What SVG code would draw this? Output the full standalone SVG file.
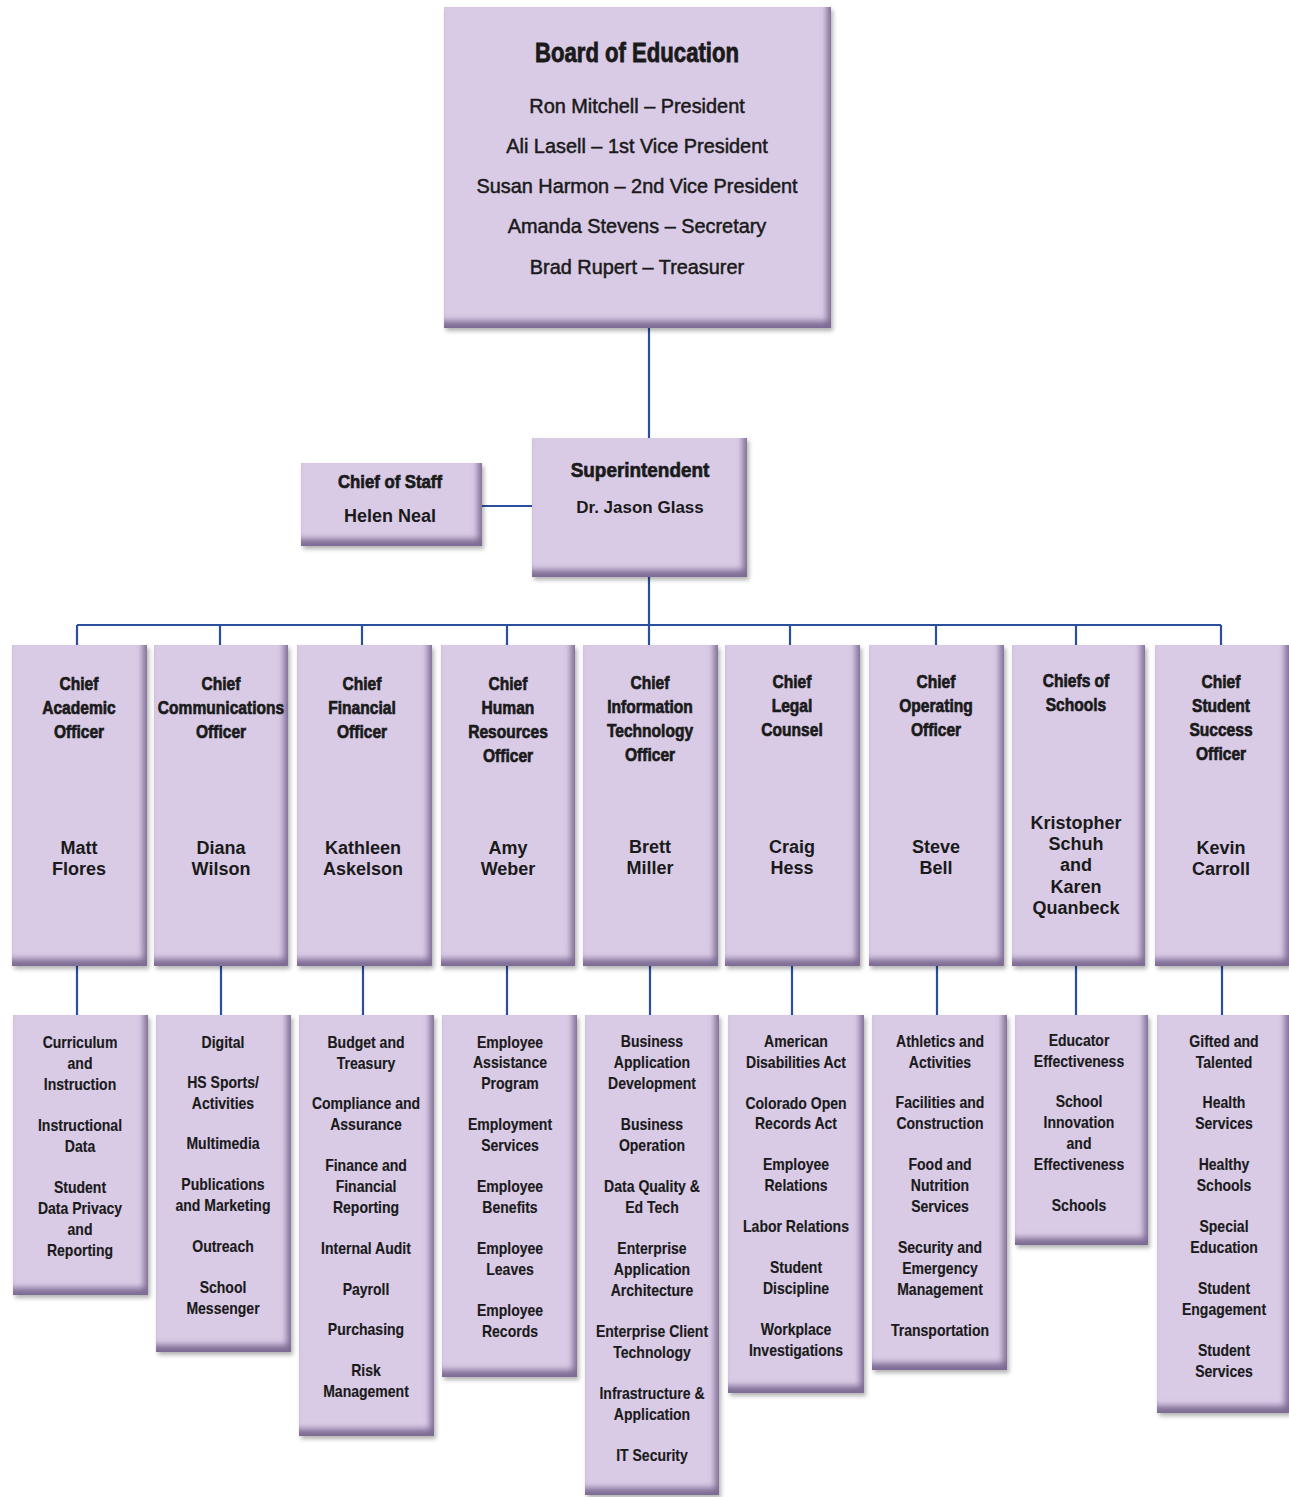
<svg xmlns="http://www.w3.org/2000/svg" width="1289" height="1497" viewBox="0 0 1289 1497">
<style>
.bx{fill:#d9cbe6;filter:url(#bev)}
.ln{stroke:#2b4f9e;stroke-width:2.2;fill:none}
text{font-family:"Liberation Sans",Arial,sans-serif;fill:#1a1a1a;text-anchor:middle}
.ttl{font-size:27px;font-weight:bold;stroke:#1a1a1a;stroke-width:0.8}
.brd{font-size:20.5px;stroke:#1a1a1a;stroke-width:0.5}
.hd{font-size:19px;font-weight:bold;stroke:#1a1a1a;stroke-width:0.7}
.nm{font-size:18px;font-weight:bold}
.sb{font-size:16.5px;font-weight:bold;stroke:#1a1a1a;stroke-width:0.15}
</style>
<defs>
<filter id="bev" x="-10%" y="-10%" width="125%" height="125%" color-interpolation-filters="sRGB">
<feGaussianBlur in="SourceAlpha" stdDeviation="3" result="blur"/>
<feOffset in="blur" dx="-4" dy="-7" result="off"/>
<feComposite in="SourceAlpha" in2="off" operator="out" result="inner"/>
<feFlood flood-color="#5e4a78" flood-opacity="0.75"/>
<feComposite in2="inner" operator="in" result="shade"/>
<feOffset in="SourceAlpha" dx="2" dy="3" result="so"/>
<feGaussianBlur in="so" stdDeviation="2" result="sblur"/>
<feFlood flood-color="#000" flood-opacity="0.3"/>
<feComposite in2="sblur" operator="in" result="drop"/>
<feMerge><feMergeNode in="drop"/><feMergeNode in="SourceGraphic"/><feMergeNode in="shade"/></feMerge>
</filter>
</defs>
<rect width="1289" height="1497" fill="#ffffff"/>
<g id="connectors">
<path class="ln" d="M649 328V438M482 506H532M649 577V625M77 625H1221M77 625V645M220 625V645M362 625V645M507 625V645M649 625V645M790 625V645M936 625V645M1076 625V645M1221 625V645"/>
<path class="ln" d="M77 966V1015M221 966V1015M363 966V1015M507 966V1015M650 966V1015M792 966V1015M937 966V1015M1076 966V1015M1222 966V1015"/>
</g>
<g id="board">
<rect class="bx" x="444" y="7" width="387" height="321"/>
<g transform="translate(637 0) scale(0.82 1)"><text class="ttl" x="0" y="62">Board of Education</text></g>
<g transform="translate(637 0) scale(0.97 1)">
<text class="brd" x="0" y="113">Ron Mitchell – President</text>
<text class="brd" x="0" y="153">Ali Lasell – 1st Vice President</text>
<text class="brd" x="0" y="193">Susan Harmon – 2nd Vice President</text>
<text class="brd" x="0" y="233">Amanda Stevens – Secretary</text>
<text class="brd" x="0" y="274">Brad Rupert – Treasurer</text>
</g>
</g>
<g id="chief-of-staff">
<rect class="bx" x="301" y="463" width="181" height="83"/>
<g transform="translate(390 0) scale(0.88 1)"><text class="hd" x="0" y="488">Chief of Staff</text></g>
<text class="nm" x="390" y="522">Helen Neal</text>
</g>
<g id="superintendent">
<rect class="bx" x="532" y="438" width="215" height="139"/>
<g transform="translate(640 0) scale(0.9 1)"><text class="hd" x="0" y="477" style="font-size:21px">Superintendent</text></g>
<text class="nm" x="640" y="513" style="font-size:17px">Dr. Jason Glass</text>
</g>
<g id="cao">
<rect class="bx" x="12" y="645" width="135" height="321"/>
<g transform="translate(79 0) scale(0.82 1)"><text class="hd"><tspan x="0" y="690">Chief</tspan><tspan x="0" y="714">Academic</tspan><tspan x="0" y="738">Officer</tspan></text></g>
<text class="nm"><tspan x="79" y="854">Matt</tspan><tspan x="79" y="875">Flores</tspan></text>
</g>
<g id="cco">
<rect class="bx" x="154" y="645" width="134" height="321"/>
<g transform="translate(221 0) scale(0.82 1)"><text class="hd"><tspan x="0" y="690">Chief</tspan><tspan x="0" y="714">Communications</tspan><tspan x="0" y="738">Officer</tspan></text></g>
<text class="nm"><tspan x="221" y="854">Diana</tspan><tspan x="221" y="875">Wilson</tspan></text>
</g>
<g id="cfo">
<rect class="bx" x="297" y="645" width="135" height="321"/>
<g transform="translate(362 0) scale(0.82 1)"><text class="hd"><tspan x="0" y="690">Chief</tspan><tspan x="0" y="714">Financial</tspan><tspan x="0" y="738">Officer</tspan></text></g>
<text class="nm"><tspan x="363" y="854">Kathleen</tspan><tspan x="363" y="875">Askelson</tspan></text>
</g>
<g id="chro">
<rect class="bx" x="441" y="645" width="134" height="321"/>
<g transform="translate(508 0) scale(0.82 1)"><text class="hd"><tspan x="0" y="690">Chief</tspan><tspan x="0" y="714">Human</tspan><tspan x="0" y="738">Resources</tspan><tspan x="0" y="762">Officer</tspan></text></g>
<text class="nm"><tspan x="508" y="854">Amy</tspan><tspan x="508" y="875">Weber</tspan></text>
</g>
<g id="cito">
<rect class="bx" x="583" y="645" width="135" height="321"/>
<g transform="translate(650 0) scale(0.82 1)"><text class="hd"><tspan x="0" y="689">Chief</tspan><tspan x="0" y="713">Information</tspan><tspan x="0" y="737">Technology</tspan><tspan x="0" y="761">Officer</tspan></text></g>
<text class="nm"><tspan x="650" y="853">Brett</tspan><tspan x="650" y="874">Miller</tspan></text>
</g>
<g id="clc">
<rect class="bx" x="725" y="645" width="135" height="321"/>
<g transform="translate(792 0) scale(0.82 1)"><text class="hd"><tspan x="0" y="688">Chief</tspan><tspan x="0" y="712">Legal</tspan><tspan x="0" y="736">Counsel</tspan></text></g>
<text class="nm"><tspan x="792" y="853">Craig</tspan><tspan x="792" y="874">Hess</tspan></text>
</g>
<g id="coo">
<rect class="bx" x="869" y="645" width="135" height="321"/>
<g transform="translate(936 0) scale(0.82 1)"><text class="hd"><tspan x="0" y="688">Chief</tspan><tspan x="0" y="712">Operating</tspan><tspan x="0" y="736">Officer</tspan></text></g>
<text class="nm"><tspan x="936" y="853">Steve</tspan><tspan x="936" y="874">Bell</tspan></text>
</g>
<g id="chiefs-of-schools">
<rect class="bx" x="1012" y="645" width="133" height="321"/>
<g transform="translate(1076 0) scale(0.82 1)"><text class="hd"><tspan x="0" y="687">Chiefs of</tspan><tspan x="0" y="711">Schools</tspan></text></g>
<text class="nm"><tspan x="1076" y="829">Kristopher</tspan><tspan x="1076" y="850">Schuh</tspan><tspan x="1076" y="871">and</tspan><tspan x="1076" y="893">Karen</tspan><tspan x="1076" y="914">Quanbeck</tspan></text>
</g>
<g id="csso">
<rect class="bx" x="1155" y="645" width="134" height="321"/>
<g transform="translate(1221 0) scale(0.82 1)"><text class="hd"><tspan x="0" y="688">Chief</tspan><tspan x="0" y="712">Student</tspan><tspan x="0" y="736">Success</tspan><tspan x="0" y="760">Officer</tspan></text></g>
<text class="nm"><tspan x="1221" y="854">Kevin</tspan><tspan x="1221" y="875">Carroll</tspan></text>
</g>
<g id="academic-depts">
<rect class="bx" x="13" y="1015" width="135" height="280"/>
<g transform="translate(80 0) scale(0.85 1)"><text class="sb"><tspan x="0" y="1048">Curriculum</tspan><tspan x="0" y="1069">and</tspan><tspan x="0" y="1090">Instruction</tspan><tspan x="0" y="1131">Instructional</tspan><tspan x="0" y="1152">Data</tspan><tspan x="0" y="1193">Student</tspan><tspan x="0" y="1214">Data Privacy</tspan><tspan x="0" y="1235">and</tspan><tspan x="0" y="1256">Reporting</tspan></text></g>
</g>
<g id="communications-depts">
<rect class="bx" x="156" y="1015" width="135" height="337"/>
<g transform="translate(223 0) scale(0.85 1)"><text class="sb"><tspan x="0" y="1048">Digital</tspan><tspan x="0" y="1088">HS Sports/</tspan><tspan x="0" y="1109">Activities</tspan><tspan x="0" y="1149">Multimedia</tspan><tspan x="0" y="1190">Publications</tspan><tspan x="0" y="1211">and Marketing</tspan><tspan x="0" y="1252">Outreach</tspan><tspan x="0" y="1293">School</tspan><tspan x="0" y="1314">Messenger</tspan></text></g>
</g>
<g id="financial-depts">
<rect class="bx" x="299" y="1015" width="135" height="421"/>
<g transform="translate(366 0) scale(0.85 1)"><text class="sb"><tspan x="0" y="1048">Budget and</tspan><tspan x="0" y="1069">Treasury</tspan><tspan x="0" y="1109">Compliance and</tspan><tspan x="0" y="1130">Assurance</tspan><tspan x="0" y="1171">Finance and</tspan><tspan x="0" y="1192">Financial</tspan><tspan x="0" y="1213">Reporting</tspan><tspan x="0" y="1254">Internal Audit</tspan><tspan x="0" y="1295">Payroll</tspan><tspan x="0" y="1335">Purchasing</tspan><tspan x="0" y="1376">Risk</tspan><tspan x="0" y="1397">Management</tspan></text></g>
</g>
<g id="hr-depts">
<rect class="bx" x="442" y="1015" width="135" height="362"/>
<g transform="translate(510 0) scale(0.85 1)"><text class="sb"><tspan x="0" y="1048">Employee</tspan><tspan x="0" y="1068">Assistance</tspan><tspan x="0" y="1089">Program</tspan><tspan x="0" y="1130">Employment</tspan><tspan x="0" y="1151">Services</tspan><tspan x="0" y="1192">Employee</tspan><tspan x="0" y="1213">Benefits</tspan><tspan x="0" y="1254">Employee</tspan><tspan x="0" y="1275">Leaves</tspan><tspan x="0" y="1316">Employee</tspan><tspan x="0" y="1337">Records</tspan></text></g>
</g>
<g id="it-depts">
<rect class="bx" x="585" y="1015" width="134" height="480"/>
<g transform="translate(652 0) scale(0.85 1)"><text class="sb"><tspan x="0" y="1047">Business</tspan><tspan x="0" y="1068">Application</tspan><tspan x="0" y="1089">Development</tspan><tspan x="0" y="1130">Business</tspan><tspan x="0" y="1151">Operation</tspan><tspan x="0" y="1192">Data Quality &amp;</tspan><tspan x="0" y="1213">Ed Tech</tspan><tspan x="0" y="1254">Enterprise</tspan><tspan x="0" y="1275">Application</tspan><tspan x="0" y="1296">Architecture</tspan><tspan x="0" y="1337">Enterprise Client</tspan><tspan x="0" y="1358">Technology</tspan><tspan x="0" y="1399">Infrastructure &amp;</tspan><tspan x="0" y="1420">Application</tspan><tspan x="0" y="1461">IT Security</tspan></text></g>
</g>
<g id="legal-depts">
<rect class="bx" x="728" y="1015" width="136" height="378"/>
<g transform="translate(796 0) scale(0.85 1)"><text class="sb"><tspan x="0" y="1047">American</tspan><tspan x="0" y="1068">Disabilities Act</tspan><tspan x="0" y="1109">Colorado Open</tspan><tspan x="0" y="1129">Records Act</tspan><tspan x="0" y="1170">Employee</tspan><tspan x="0" y="1191">Relations</tspan><tspan x="0" y="1232">Labor Relations</tspan><tspan x="0" y="1273">Student</tspan><tspan x="0" y="1294">Discipline</tspan><tspan x="0" y="1335">Workplace</tspan><tspan x="0" y="1356">Investigations</tspan></text></g>
</g>
<g id="operating-depts">
<rect class="bx" x="872" y="1015" width="135" height="355"/>
<g transform="translate(940 0) scale(0.85 1)"><text class="sb"><tspan x="0" y="1047">Athletics and</tspan><tspan x="0" y="1068">Activities</tspan><tspan x="0" y="1108">Facilities and</tspan><tspan x="0" y="1129">Construction</tspan><tspan x="0" y="1170">Food and</tspan><tspan x="0" y="1191">Nutrition</tspan><tspan x="0" y="1212">Services</tspan><tspan x="0" y="1253">Security and</tspan><tspan x="0" y="1274">Emergency</tspan><tspan x="0" y="1295">Management</tspan><tspan x="0" y="1336">Transportation</tspan></text></g>
</g>
<g id="schools-depts">
<rect class="bx" x="1015" y="1015" width="133" height="230"/>
<g transform="translate(1079 0) scale(0.85 1)"><text class="sb"><tspan x="0" y="1046">Educator</tspan><tspan x="0" y="1067">Effectiveness</tspan><tspan x="0" y="1107">School</tspan><tspan x="0" y="1128">Innovation</tspan><tspan x="0" y="1149">and</tspan><tspan x="0" y="1170">Effectiveness</tspan><tspan x="0" y="1211">Schools</tspan></text></g>
</g>
<g id="student-success-depts">
<rect class="bx" x="1157" y="1015" width="132" height="398"/>
<g transform="translate(1224 0) scale(0.85 1)"><text class="sb"><tspan x="0" y="1047">Gifted and</tspan><tspan x="0" y="1068">Talented</tspan><tspan x="0" y="1108">Health</tspan><tspan x="0" y="1129">Services</tspan><tspan x="0" y="1170">Healthy</tspan><tspan x="0" y="1191">Schools</tspan><tspan x="0" y="1232">Special</tspan><tspan x="0" y="1253">Education</tspan><tspan x="0" y="1294">Student</tspan><tspan x="0" y="1315">Engagement</tspan><tspan x="0" y="1356">Student</tspan><tspan x="0" y="1377">Services</tspan></text></g>
</g>
</svg>
